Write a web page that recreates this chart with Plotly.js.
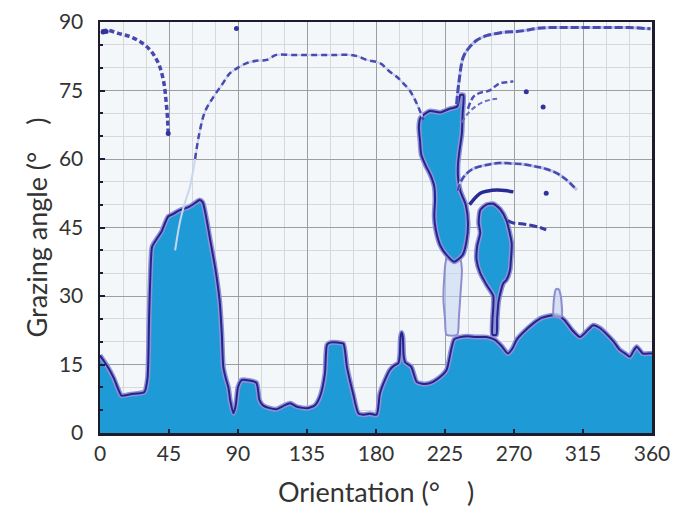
<!DOCTYPE html>
<html>
<head>
<meta charset="utf-8">
<script src="https://cdn.plot.ly/plotly-3.0.1.min.js"></script>
<style>html,body{margin:0;padding:0;background:#fff;}#chart{width:677px;height:515px;}</style>
</head>
<body>
<div id="chart"></div>
<script>
// ---- data ----
const xTicks = [0, 45, 90, 135, 180, 225, 270, 315, 360];
const yTicks = [0, 15, 30, 45, 60, 75, 90];

// lower shadowed region: boundary grazing angle vs orientation
const baseOrient = [0, 2, 5, 9, 12, 14, 20, 29, 31, 32, 33, 34, 37, 40, 44.5, 48, 52, 58, 63, 65, 67, 69.6, 72, 75, 78, 79.4, 80.4, 82, 83.7, 85, 87, 88.5, 90, 92.4, 97, 102, 104, 106.5, 110, 115, 120, 124, 128, 132, 135, 140, 143.5, 146.7, 148, 150, 155, 158.7, 161, 165, 168.5, 172, 176, 180.4, 182.6, 187, 189, 192, 194.6, 195.5, 196, 196.7, 197.5, 198, 199, 203, 206.5, 210, 215, 220, 226, 229, 231, 234.8, 240, 245, 252, 257.6, 262, 266, 269, 271.7, 276, 282.6, 288, 295.6, 300, 303, 308, 313, 318, 321.7, 326, 330, 335, 339, 342, 345.6, 348, 350, 354, 358.7, 360];
const baseAngle = [17, 16, 14.5, 12, 9.5, 8.2, 8.5, 9, 12, 25, 36, 40.8, 42.5, 44, 47.4, 48, 48.8, 49.5, 50.6, 51, 50.5, 46.6, 42, 36.4, 29, 21.9, 14.5, 12, 10, 7, 4.3, 6, 10, 11.6, 11.5, 11, 7.2, 6, 5.5, 5.2, 6, 6.5, 5.8, 5.5, 5.4, 6, 8, 13, 19.3, 19.8, 19.8, 19.6, 14.5, 8.7, 4.3, 4, 4.2, 4, 8.7, 12.5, 13.8, 14.8, 15.3, 17, 21, 22, 21, 17, 15.5, 14.5, 11.2, 10.8, 10.9, 11.8, 13.8, 18.2, 20.5, 21, 21.2, 21, 21, 20.4, 19, 17.4, 18.5, 20.4, 22, 24, 25.2, 25.8, 25.5, 24.7, 22.5, 21, 22.5, 23.6, 23, 21.8, 20, 18.2, 17.5, 16.7, 18, 18.9, 17.4, 17.4, 17.4];

// island 1 (upper blob near 210-240 deg)
const isl1Orient = [209, 215, 222, 228, 233, 235, 237, 236.5, 236, 234.5, 233.5, 233.5, 235, 238.5, 240, 239, 236.5, 231, 226, 222, 219, 218, 218.5, 218, 215.5, 212.5, 209.5, 208.7, 208, 209];
const isl1Angle = [69, 70.5, 70.2, 71, 71.5, 74, 74, 70, 65.6, 62, 59, 56, 53, 50, 46, 42, 39, 37.5, 39, 41, 44.5, 47.5, 51, 54, 56.5, 58.5, 61, 64, 67, 69];

// thin column below island 1
const colOrient = [226, 224.5, 224, 225, 226, 233, 234, 235, 236, 234, 226];
const colAngle = [38, 34, 29, 25, 21.5, 21.5, 25, 30, 36, 39, 38];

// island 2 (blob near 250-268 deg)
const isl2Orient = [248, 252, 256.5, 261, 265, 268.5, 268, 267.4, 265, 263, 260, 259, 258.5, 256, 256, 256.5, 252, 248, 245.6, 246, 248, 247, 248];
const isl2Angle = [48.8, 50, 50.2, 49, 46.6, 41.5, 38, 35.7, 33.5, 32.8, 29, 25, 21.5, 21.5, 25, 30, 32.5, 35, 37.9, 41, 43.8, 46, 48.8];

// small light bump near 298 deg
const bumpOrient = [296, 296.3, 297.5, 299, 300.5, 301, 296];
const bumpAngle = [25.5, 30, 31.5, 31.5, 30, 25.5, 25.5];

// dotted arcs
const arcAOrient = [1, 5, 12, 19.6, 27, 32.6, 36.5, 39, 41.7, 43, 44, 44.5];
const arcAAngle = [88, 88.2, 87.5, 86.8, 85.5, 83.9, 82, 80.2, 76.6, 73, 69, 65.6];

const arcBOrient = [49, 52, 55, 58.7, 62, 65, 68.5, 74, 80, 84.8, 90, 95.7, 102, 108.7, 115, 125, 135, 145, 155, 163, 168, 174, 182.6, 189, 193.5, 198, 202, 206.5, 211];
const arcBAngle = [40, 46, 50, 54, 60, 66, 70.4, 73.6, 76.5, 78.8, 80, 81, 81.5, 81.7, 82.8, 82.8, 82.8, 82.8, 82.8, 82.8, 82.5, 81.7, 81, 79.1, 78, 76.5, 75, 72.2, 68.5];

const arcCOrient = [232.6, 234, 237, 241, 245.7, 252, 258.7, 265, 271.7, 278, 285, 295, 305, 315, 325, 335, 345, 355, 359];
const arcCAngle = [72, 76.6, 82.4, 84.5, 86, 87, 87.5, 87.8, 87.9, 88.2, 88.6, 88.8, 88.8, 88.8, 88.8, 88.8, 88.8, 88.6, 88.5];

const arcD1Orient = [240, 243.5, 248, 254, 258, 261, 265, 269.6];
const arcD1Angle = [71, 73.6, 74.5, 75, 76, 76.6, 76.8, 77];
const arcD2Orient = [236, 240, 245, 250, 255, 259];
const arcD2Angle = [68, 70, 71.5, 72.5, 73, 73.2];

const arcEOrient = [233, 237, 243, 252, 260, 269.6, 277, 284.8, 291, 297.8, 304, 311];
const arcEAngle = [53, 56, 57.8, 58.7, 59.1, 59, 58.8, 58.3, 57.8, 56.9, 55.5, 53.2];

const arcFOrient = [241, 248, 253, 258.7, 264, 269.6];
const arcFAngle = [50, 52.5, 53, 53.2, 53.1, 52.8];

const arcGOrient = [266, 269.6, 275, 281, 287, 291];
const arcGAngle = [46.5, 46, 45.8, 45.5, 45, 44.5];

const dotOrient = [278, 289, 291, 89, 44.5, 2, 4];
const dotAngle = [74.7, 71.4, 52.5, 88.6, 65.6, 87.8, 87.9];

// ---- styling ----
const FILL = '#1e9bd7';
const NAVY = '#24248f';
const HALO = '#9090d4';

const traces = [];
function region(x, y, fillMode) {
  traces.push({x: x, y: y, type: 'scatter', mode: 'lines', fill: fillMode, fillcolor: FILL,
    line: {color: HALO, width: 5, shape: 'spline', smoothing: 0.6}, hoverinfo: 'skip'});
  traces.push({x: x, y: y, type: 'scatter', mode: 'lines',
    line: {color: NAVY, width: 2, shape: 'spline', smoothing: 0.6}, hoverinfo: 'skip'});
}
region(baseOrient, baseAngle, 'tozeroy');
traces.push({x: colOrient, y: colAngle, type: 'scatter', mode: 'lines', fill: 'toself', fillcolor: 'rgba(200,215,240,0.6)',
  line: {color: '#8d8dcf', width: 2, shape: 'spline', smoothing: 0.6}, hoverinfo: 'skip'});
traces.push({x: bumpOrient, y: bumpAngle, type: 'scatter', mode: 'lines', fill: 'toself', fillcolor: 'rgba(200,215,240,0.7)',
  line: {color: '#8d8dcf', width: 2, shape: 'spline', smoothing: 0.6}, hoverinfo: 'skip'});
region(isl1Orient, isl1Angle, 'toself');
region(isl2Orient, isl2Angle, 'toself');

function arc(x, y, color, width, dash) {
  traces.push({x: x, y: y, type: 'scatter', mode: 'lines',
    line: {color: color, width: width, dash: dash, shape: 'spline'}, hoverinfo: 'skip'});
}
arc(arcBOrient, arcBAngle, '#c9d6ee', 2, 'solid');
arc(arcEOrient, arcEAngle, '#b9c6ea', 3, 'solid');
arc(arcCOrient, arcCAngle, '#b9c6ea', 3, 'solid');
arc(arcAOrient, arcAAngle, '#4747ad', 3.5, '5px,3px');
arc(arcBOrient.slice(4), arcBAngle.slice(4), '#4a4ab0', 2.5, '6px,4px');
arc(arcCOrient, arcCAngle, '#4a4ab0', 3, '8px,3px');
arc(arcD1Orient, arcD1Angle, '#5050b5', 2.5, '6px,3px');
arc(arcD2Orient, arcD2Angle, '#6a6ac0', 2, '5px,3px');
arc(arcEOrient, arcEAngle, '#4a4ab0', 2.5, '7px,3px');
arc(arcFOrient, arcFAngle, '#2a2a96', 3.5, 'solid');
arc(arcGOrient, arcGAngle, '#3a3aa5', 3, '8px,3px');
traces.push({x: dotOrient, y: dotAngle, type: 'scatter', mode: 'markers',
  marker: {color: '#33339e', size: 5}, hoverinfo: 'skip'});

const FONT = 'Lato, Open Sans, sans-serif';
const tickFont = {family: FONT, size: 21, color: '#333'};
const titleFont = {family: FONT, size: 27, color: '#333'};
const layout = {
  width: 677, height: 515,
  margin: {l: 100, r: 25, t: 22, b: 82},
  paper_bgcolor: '#ffffff',
  plot_bgcolor: '#f3f7f9',
  showlegend: false,
  xaxis: {
    range: [0, 360], tickvals: xTicks, ticktext: xTicks.map(String),
    showgrid: true, gridcolor: '#9c9fa2', gridwidth: 1,
    minor: {tickvals: [15,30,60,75,105,120,150,165,195,210,240,255,285,300,330,345], showgrid: true, gridcolor: '#d5d9dc', gridwidth: 1, ticks: ''},
    ticks: 'inside', ticklen: 4, tickwidth: 2, tickcolor: '#1a1a3a',
    showline: true, linecolor: '#1c1c2c', linewidth: 2.5, mirror: true, zeroline: false,
    tickfont: tickFont, ticklabelstandoff: 0,
    title: {text: 'Orientation (°\u3000)', font: titleFont, standoff: 20}
  },
  yaxis: {
    range: [0, 90], tickvals: yTicks, ticktext: yTicks.map(String),
    showgrid: true, gridcolor: '#9c9fa2', gridwidth: 1,
    minor: {dtick: 5, showgrid: true, gridcolor: '#d5d9dc', gridwidth: 1, ticks: 'inside', ticklen: 3, tickcolor: '#1a1a3a'},
    ticks: 'inside', ticklen: 5, tickwidth: 2, tickcolor: '#1a1a3a',
    showline: true, linecolor: '#1c1c2c', linewidth: 2.5, mirror: true, zeroline: false,
    tickfont: tickFont, ticklabelstandoff: 10,
    title: {text: 'Grazing angle (°\u3000)', font: titleFont, standoff: 4}
  }
};
Plotly.newPlot('chart', traces, layout, {displayModeBar: false, staticPlot: true});
</script>
</body>
</html>
